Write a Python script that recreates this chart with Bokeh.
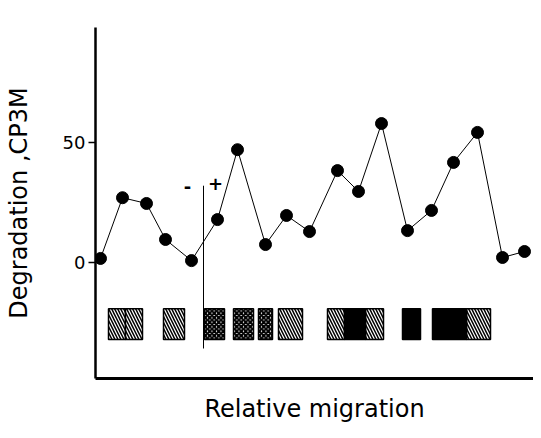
from bokeh.plotting import figure
from bokeh.models import FixedTicker, Range1d
from bokeh.core.properties import value
from bokeh.embed import file_html
from bokeh.resources import INLINE

# Data: relative migration positions and degradation values
migration = [0.5, 2.7, 5.1, 7.0, 9.6, 12.2, 14.2, 17.0, 19.1, 21.4,
             24.2, 26.3, 28.6, 31.2, 33.6, 35.8, 38.2, 40.7, 42.9]
degradation = [1.7, 27.0, 24.6, 9.6, 0.8, 17.9, 47.0, 7.5, 19.6, 12.9,
               38.3, 29.6, 57.9, 13.3, 21.7, 41.7, 54.2, 2.1, 4.6]

# Band boxes below the curve (migration ranges)
hatched_left = [1.3, 3.0, 6.8, 18.3, 23.2, 27.0, 37.1]
hatched_right = [3.0, 4.7, 8.9, 20.7, 24.9, 28.8, 39.5]
cross_left = [10.9, 13.8, 16.3]
cross_right = [12.9, 15.8, 17.7]
black_left = [24.9, 30.7, 33.7]
black_right = [27.0, 32.5, 37.1]
band_top = -19.2
band_bottom = -32.1

# Marker (- / +) line position
marker_x = 10.8
marker_top = 32.0
marker_bottom = -35.8
sign_x = [9.2, 12.0]
sign_y = [31.7, 32.9]
sign_text = ["-", "+"]

y_ticks = [0, 50]

FONT = "DejaVu Sans"

p = figure(width=533, height=430, output_backend="svg", toolbar_location=None,
           x_range=Range1d(0, 43.8), y_range=Range1d(-48.3, 97.9),
           min_border_left=95, min_border_right=0, min_border_top=27,
           min_border_bottom=52)
p.outline_line_color = None
p.grid.visible = False
p.background_fill_color = "white"

# Axes
p.yaxis.ticker = FixedTicker(ticks=y_ticks)
p.yaxis.minor_tick_line_color = None
p.yaxis.major_tick_out = 7
p.yaxis.major_tick_in = 0
p.yaxis.major_tick_line_width = 1.5
p.yaxis.axis_line_width = 2.5
p.yaxis.major_label_standoff = 3
p.yaxis.major_label_text_font = FONT
p.yaxis.major_label_text_font_size = "18px"
p.yaxis.major_label_text_color = "black"
p.yaxis.axis_label = "Degradation ,CP3M"
p.yaxis.axis_label_text_font = FONT
p.yaxis.axis_label_text_font_size = "24px"
p.yaxis.axis_label_text_font_style = "normal"
p.yaxis.axis_label_text_color = "black"
p.yaxis.axis_label_standoff = 27

p.xaxis.ticker = FixedTicker(ticks=[])
p.xaxis.minor_tick_line_color = None
p.xaxis.major_tick_line_color = None
p.xaxis.axis_line_width = 3
p.xaxis.axis_label = "Relative migration"
p.xaxis.axis_label_text_font = FONT
p.xaxis.axis_label_text_font_size = "24px"
p.xaxis.axis_label_text_font_style = "normal"
p.xaxis.axis_label_text_color = "black"
p.xaxis.axis_label_standoff = 16

# Curve
p.line(migration, degradation, line_color="black", line_width=1)
p.scatter(migration, degradation, size=12, fill_color="black", line_color="black")

# Bands
p.quad(left=hatched_left, right=hatched_right,
       top=[band_top] * len(hatched_left), bottom=[band_bottom] * len(hatched_left),
       fill_color="white", line_color="black", line_width=1.5,
       hatch_pattern="\\", hatch_color="black", hatch_scale=6, hatch_weight=1.5)
p.quad(left=cross_left, right=cross_right,
       top=[band_top] * len(cross_left), bottom=[band_bottom] * len(cross_left),
       fill_color="white", line_color="black", line_width=1.5,
       hatch_pattern="x", hatch_color="black", hatch_scale=4.5, hatch_weight=2.2)
p.quad(left=black_left, right=black_right,
       top=[band_top] * len(black_left), bottom=[band_bottom] * len(black_left),
       fill_color="black", line_color="black", line_width=1.5)

# Marker line with - / +
p.segment(x0=[marker_x], y0=[marker_bottom], x1=[marker_x], y1=[marker_top],
          line_color="black", line_width=1)
p.text(x=sign_x, y=sign_y, text=sign_text,
       text_font=value(FONT), text_font_size="18px", text_font_style="bold",
       text_align="center", text_baseline="middle", text_color="black")

open("out.html", "w").write(file_html(p, INLINE))
